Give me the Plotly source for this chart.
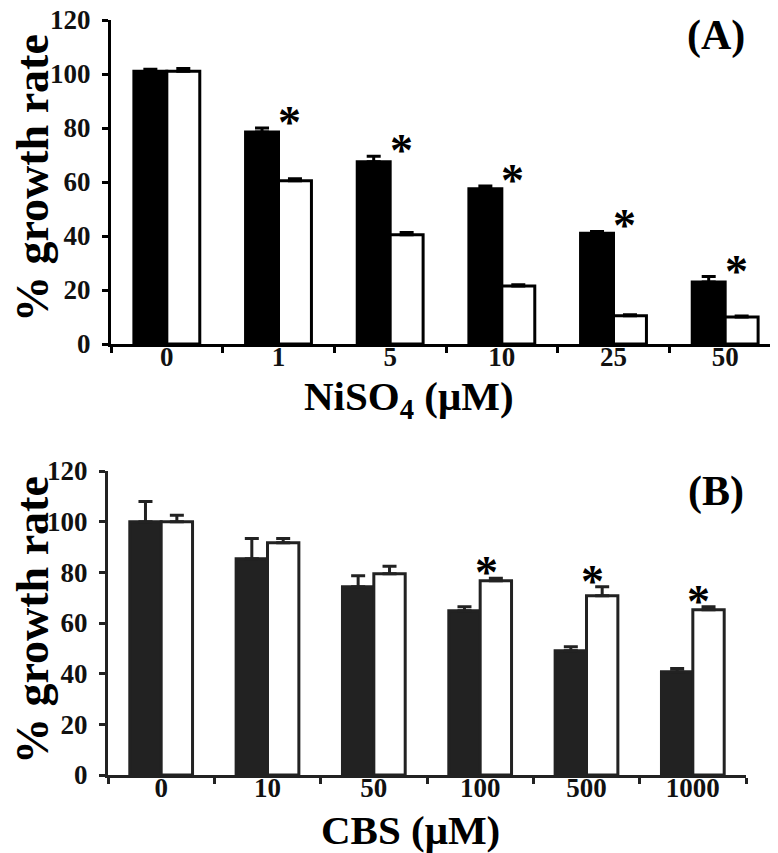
import plotly.graph_objects as go

# ---- data ----
doses_a = ["0", "1", "5", "10", "25", "50"]
black_a = [101, 78.5, 67.5, 57.5, 41, 23]
black_a_err = [0.8, 1.5, 2, 1, 0.7, 2]
white_a = [101, 60.5, 40.5, 21.5, 10.5, 10]
white_a_err = [1, 0.7, 0.8, 0.4, 0.3, 0.4]
star_a = [False, True, True, True, True, True]   # stars over the black bars

doses_b = ["0", "10", "50", "100", "500", "1000"]
black_b = [100, 85.4, 74.3, 64.8, 49, 40.8]
black_b_err = [8, 8, 4.4, 1.6, 1.6, 1.2]
white_b = [100, 91.7, 79.4, 76.7, 70.8, 65.2]
white_b_err = [2.5, 1.7, 3, 1, 3.5, 1.2]
star_b = [False, False, False, True, True, True]  # stars over the white bars

y_ticks = [0, 20, 40, 60, 80, 100, 120]

W, H = 778, 853
SERIF = "Liberation Serif, Times New Roman, serif"


def px_x(p):
    return p / W


def px_y(p):
    return 1 - p / H


def bar(x, y, err, fill, line, xa, ya):
    return go.Bar(
        x=x, y=y, xaxis=xa, yaxis=ya,
        marker=dict(color=fill, line=dict(color=line, width=3)),
        error_y=dict(type="data", array=err, arrayminus=[0] * len(err),
                     symmetric=False, color=line, thickness=3, width=7),
        showlegend=False,
    )


fig = go.Figure()
fig.add_trace(bar(doses_a, black_a, black_a_err, "#000000", "#000000", "x", "y"))
fig.add_trace(bar(doses_a, white_a, white_a_err, "#ffffff", "#000000", "x", "y"))
fig.add_trace(bar(doses_b, black_b, black_b_err, "#222222", "#222222", "x2", "y2"))
fig.add_trace(bar(doses_b, white_b, white_b_err, "#ffffff", "#222222", "x2", "y2"))

tickfont = dict(family=SERIF, size=27, color="#111111", weight="bold")


def xaxis(dom, col, anchor):
    return dict(domain=dom, anchor=anchor, type="category", range=[-0.5, 5.5],
                showline=True, linecolor=col, linewidth=3, showgrid=False,
                ticks="outside", tickson="boundaries", ticklen=6, tickwidth=3,
                tickcolor=col, tickfont=tickfont, automargin=False, fixedrange=True,
                ticklabelstandoff=-13)


def yaxis(dom, col, anchor):
    return dict(domain=dom, anchor=anchor, range=[0, 120], tickvals=y_ticks,
                showline=True, linecolor=col, linewidth=3, showgrid=False,
                zeroline=False, ticks="outside", ticklen=6, tickwidth=3,
                tickcolor=col, tickfont=tickfont, automargin=False,
                ticklabeloverflow="allow", ticklabelstandoff=6)


fig.update_layout(
    width=W, height=H,
    margin=dict(l=0, r=0, t=0, b=0),
    plot_bgcolor="white", paper_bgcolor="white",
    barmode="group", bargap=0.41, bargroupgap=0,
    xaxis=xaxis([px_x(103), px_x(773)], "#000000", "y"),
    yaxis=yaxis([px_y(336), px_y(12)], "#000000", "x"),
    xaxis2=xaxis([px_x(100), px_x(738)], "#222222", "y2"),
    yaxis2=yaxis([px_y(767), px_y(463)], "#222222", "x2"),
)

# significance stars (x given as category index)
star_font = dict(family=SERIF, size=46, color="#000000")
for i, (v, e, s) in enumerate(zip(black_a, black_a_err, star_a)):
    if s:
        fig.add_annotation(x=i, y=v + e, xref="x", yref="y", text="<b>*</b>",
                           showarrow=False, yanchor="bottom", xshift=11,
                           yshift=-22, font=star_font)
for i, (v, e, s) in enumerate(zip(white_b, white_b_err, star_b)):
    if s:
        fig.add_annotation(x=i, y=v + e, xref="x2", yref="y2", text="<b>*</b>",
                           showarrow=False, yanchor="bottom", xshift=6,
                           yshift=-22, font=star_font)

# titles and panel labels
texts = [
    ("<b>% growth rate</b>", 24, 170, -90, 46),
    ("<b>% growth rate</b>", 24, 612, -90, 46),
    ("<b>NiSO<sub>4</sub> (μM)</b>", 401, 391, 0, 41),
    ("<b>CBS (μM)</b>", 402, 822, 0, 41),
]
for t, x, y, ang, sz in texts:
    fig.add_annotation(x=px_x(x), y=px_y(y), xref="paper", yref="paper", text=t,
                       showarrow=False, textangle=ang, xanchor="center",
                       yanchor="middle",
                       font=dict(family=SERIF, size=sz, color="#000000"))

for t, y in [("<b>(A)</b>", 27), ("<b>(B)</b>", 483)]:
    fig.add_annotation(x=px_x(708), y=px_y(y), xref="paper", yref="paper", text=t,
                       showarrow=False, xanchor="center", yanchor="middle",
                       font=dict(family=SERIF, size=42, color="#000000"))

fig.write_html("out.html")
